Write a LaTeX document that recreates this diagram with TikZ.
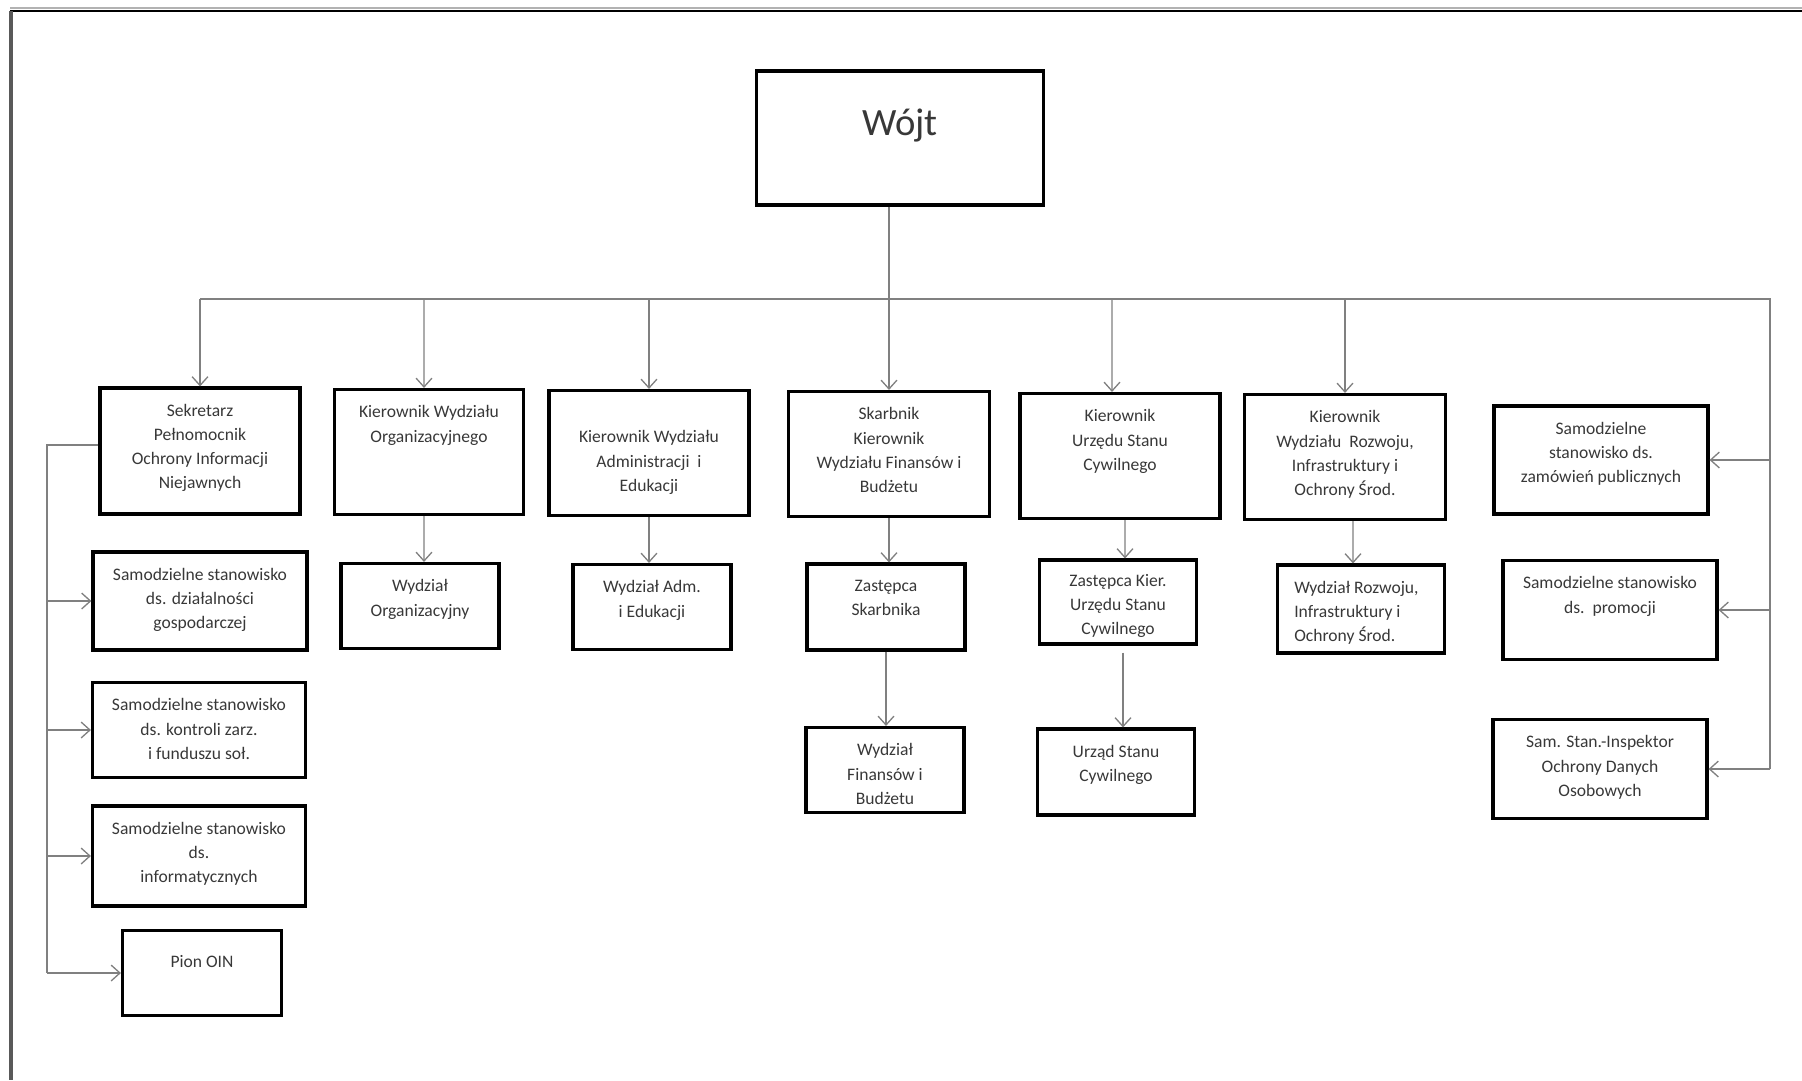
\documentclass[tikz,border=0pt]{standalone}
\usepackage{fontspec}
\setmainfont{Carlito}
\usepackage{tikz}
\usetikzlibrary{arrows.meta}
\usetikzlibrary{positioning}

\tikzset{
  box/.style={draw=black, line width=1.8pt, inner sep=0pt},
  txt/.style={align=center, inner sep=0pt, text=black!78, font=\fontsize{10}{13.7}\selectfont},
  link/.style={draw=black!50, line width=0.75pt},
  arr/.style={link, -{Straight Barb[length=5pt,width=9pt]}},
}

\begin{document}
\begin{tikzpicture}[x=0.02cm, y=-0.02cm]
    \useasboundingbox (0,0) rectangle (1802,1080);
    % Frame of the scan
    \draw[black!30, line width=0.8pt] (10,8) -- (1802,8);
    \draw[black, line width=1.2pt] (10,11) -- (1802,11);
    \draw[black!65, line width=2pt] (11,11) -- (11,1080);
    % Head
    \node[box, minimum width=5.74cm, minimum height=2.68cm] (wojt) at (900,138) {};
    \node[txt, font=\fontsize{22}{26}\selectfont, below=0.79cm of wojt.north] (wojt-t) {Wójt};
    % First row
    \node[box, minimum width=4cm, minimum height=2.52cm] (sekretarz) at (200,451) {};
    \node[txt, below=0.35cm of sekretarz.north] (sekretarz-t) {Sekretarz\\Pełnomocnik\\Ochrony Informacji\\Niejawnych};
    \node[box, minimum width=3.78cm, minimum height=2.5cm] (kierorg) at (429,452) {};
    \node[txt, below=0.35cm of kierorg.north] (kierorg-t) {Kierownik Wydziału\\Organizacyjnego};
    \node[box, minimum width=4cm, minimum height=2.5cm] (kieradm) at (649,453) {};
    \node[txt, below=0.83cm of kieradm.north] (kieradm-t) {Kierownik Wydziału\\Administracji~~i\\Edukacji};
    \node[box, minimum width=4.02cm, minimum height=2.5cm] (skarbnik) at (889,454) {};
    \node[txt, below=0.35cm of skarbnik.north] (skarbnik-t) {Skarbnik\\Kierownik\\Wydziału Finansów i\\Budżetu};
    \node[box, minimum width=4cm, minimum height=2.5cm] (kierusc) at (1120,456) {};
    \node[txt, below=0.35cm of kierusc.north] (kierusc-t) {Kierownik\\Urzędu Stanu\\Cywilnego};
    \node[box, minimum width=4.02cm, minimum height=2.5cm] (kierroz) at (1345,457) {};
    \node[txt, below=0.35cm of kierroz.north] (kierroz-t) {Kierownik\\Wydziału~~Rozwoju,\\Infrastruktury i\\Ochrony Środ.};
    \node[box, minimum width=4.28cm, minimum height=2.16cm] (samzam) at (1601,460) {};
    \node[txt, below=0.35cm of samzam.north] (samzam-t) {Samodzielne\\stanowisko ds.\\zamówień publicznych};
    % Second row
    \node[box, minimum width=4.28cm, minimum height=1.96cm] (samdzial) at (200,601) {};
    \node[txt, below=0.35cm of samdzial.north] (samdzial-t) {Samodzielne stanowisko\\ds. działalności\\gospodarczej};
    \node[box, minimum width=3.16cm, minimum height=1.7cm] (wydorg) at (420,606) {};
    \node[txt, below=0.35cm of wydorg.north] (wydorg-t) {Wydział\\Organizacyjny};
    \node[box, minimum width=3.16cm, minimum height=1.7cm] (wydadm) at (652,607) {};
    \node[txt, below=0.35cm of wydadm.north] (wydadm-t) {Wydział Adm.\\i Edukacji};
    \node[box, minimum width=3.16cm, minimum height=1.72cm] (zastsk) at (886,607) {};
    \node[txt, below=0.35cm of zastsk.north] (zastsk-t) {Zastępca\\Skarbnika};
    \node[box, minimum width=3.14cm, minimum height=1.68cm] (zastusc) at (1118,602) {};
    \node[txt, below=0.31cm of zastusc.north] (zastusc-t) {Zastępca Kier.\\Urzędu Stanu\\Cywilnego};
    \node[box, minimum width=3.34cm, minimum height=1.76cm] (wydroz) at (1361,609) {};
    \node[txt, align=left, below right=0.35cm and 0.36cm of wydroz.north west] (wydroz-t) {Wydział Rozwoju,\\Infrastruktury i\\Ochrony Środ.};
    \node[box, minimum width=4.28cm, minimum height=1.98cm] (samprom) at (1610,610) {};
    \node[txt, below=0.35cm of samprom.north] (samprom-t) {Samodzielne stanowisko\\ds.~~promocji};
    % Lower rows
    \node[box, minimum width=4.26cm, minimum height=1.9cm] (samkontr) at (199,730) {};
    \node[txt, below=0.35cm of samkontr.north] (samkontr-t) {Samodzielne stanowisko\\ds. kontroli zarz.\\i funduszu soł.};
    \node[box, minimum width=3.16cm, minimum height=1.7cm] (wydfin) at (885,770) {};
    \node[txt, below=0.35cm of wydfin.north] (wydfin-t) {Wydział\\Finansów i\\Budżetu};
    \node[box, minimum width=3.14cm, minimum height=1.72cm] (usc) at (1116,772) {};
    \node[txt, below=0.35cm of usc.north] (usc-t) {Urząd Stanu\\Cywilnego};
    \node[box, minimum width=4.28cm, minimum height=1.98cm] (saminsp) at (1600,769) {};
    \node[txt, below=0.35cm of saminsp.north] (saminsp-t) {Sam. Stan.-Inspektor\\Ochrony Danych\\Osobowych};
    \node[box, minimum width=4.26cm, minimum height=2cm] (saminf) at (199,856) {};
    \node[txt, below=0.35cm of saminf.north] (saminf-t) {Samodzielne stanowisko\\ds.\\informatycznych};
    \node[box, minimum width=3.18cm, minimum height=1.7cm] (pion) at (202,973) {};
    \node[txt, below=0.53cm of pion.north] (pion-t) {Pion OIN};
    %
    % Bus under the head
    \coordinate (busL) at (200,299);
    \coordinate (busR) at (1770,299);
    \draw[link] (busL) -- (busR) -- (busR |- saminsp.east);
    \draw[arr] (wojt.south -| skarbnik.north) -- (skarbnik.north);
    \draw[arr] (busL) -- (sekretarz.north);
    \draw[arr] (busL -| kierorg.north) ++(-5,0) -- ([xshift=-0.1cm]kierorg.north);
    \draw[arr] (busL -| kieradm.north) -- (kieradm.north);
    \draw[arr] (busL -| kierusc.north) ++(-8,0) -- ([xshift=-0.16cm]kierusc.north);
    \draw[arr] (busL -| kierroz.north) -- (kierroz.north);
    % Right side posts
    \draw[arr] (busR |- samzam.east) -- (samzam.east);
    \draw[arr] (busR |- samprom.east) -- (samprom.east);
    \draw[arr] (busR |- saminsp.east) -- (saminsp.east);
    % Down the columns
    \draw[arr] (kierorg.south) ++(-5,0) -- ([xshift=-0.1cm]kierorg.south |- wydorg.north);
    \draw[arr] (kieradm.south) -- (kieradm.south |- wydadm.north);
    \draw[arr] (skarbnik.south) -- (skarbnik.south |- zastsk.north);
    \draw[arr] (zastsk.south) -- (zastsk.south |- wydfin.north);
    \draw[arr] (kierusc.south) ++(5,0) -- ([xshift=0.1cm]kierusc.south |- zastusc.north);
    \draw[arr] ([xshift=0.1cm, yshift=-0.14cm]zastusc.south) -- ([xshift=0.1cm]zastusc.south |- usc.north);
    \draw[arr] (kierroz.south) ++(8,0) -- ([xshift=0.16cm]kierroz.south |- wydroz.north);
    % Under the Sekretarz
    \coordinate (trunk) at (47,445);
    \draw[link] (sekretarz.west |- trunk) -- (trunk) -- (trunk |- pion.west);
    \draw[arr] (trunk |- samdzial.west) -- (samdzial.west);
    \draw[arr] (trunk |- samkontr.west) -- (samkontr.west);
    \draw[arr] (trunk |- saminf.west) -- (saminf.west);
    \draw[arr] (trunk |- pion.west) -- (pion.west);
\end{tikzpicture}
\end{document}
